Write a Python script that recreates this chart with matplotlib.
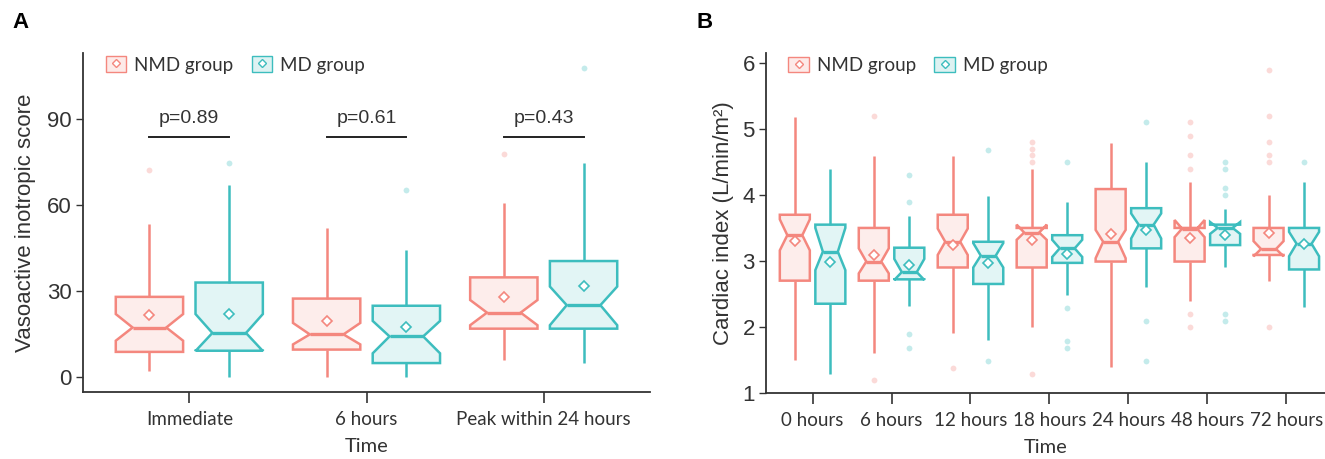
import matplotlib
matplotlib.use("Agg")
import matplotlib.pyplot as plt
from matplotlib.patches import Polygon, Patch
from matplotlib.lines import Line2D
from matplotlib.legend_handler import HandlerTuple

# ---- panel A: vasoactive inotropic score ----
a_times = ["Immediate", "6 hours", "Peak within 24 hours"]
a_pvalues = ["p=0.89", "p=0.61", "p=0.43"]

a_nmd_q1 = [8.7, 9.5, 16.8]
a_nmd_med = [17.2, 14.8, 22.4]
a_nmd_q3 = [27.9, 27.3, 34.7]
a_nmd_notch_lo = [12.6, 11.3, 18.0]
a_nmd_notch_hi = [21.9, 18.8, 26.8]
a_nmd_whisk_lo = [2.1, 0.0, 5.8]
a_nmd_whisk_hi = [53.3, 52.1, 60.5]
a_nmd_mean = [21.4, 19.4, 27.9]
a_nmd_out = [[72.3], [], [77.9]]

a_md_q1 = [9.1, 4.8, 16.8]
a_md_med = [15.3, 14.1, 25.0]
a_md_q3 = [32.9, 24.8, 40.4]
a_md_notch_lo = [9.0, 8.2, 18.0]
a_md_notch_hi = [21.9, 19.5, 31.5]
a_md_whisk_lo = [0.0, 0.0, 4.9]
a_md_whisk_hi = [67.1, 44.3, 74.5]
a_md_mean = [21.9, 17.4, 31.7]
a_md_out = [[74.6], [65.2], [107.7]]

# ---- panel B: cardiac index ----
b_times = ["0 hours", "6 hours", "12 hours", "18 hours", "24 hours", "48 hours", "72 hours"]

b_nmd_q1 = [2.70, 2.70, 2.90, 2.90, 2.99, 2.99, 3.09]
b_nmd_med = [3.39, 2.99, 3.29, 3.43, 3.29, 3.49, 3.18]
b_nmd_q3 = [3.70, 3.50, 3.70, 3.50, 4.09, 3.50, 3.50]
b_nmd_notch_lo = [3.16, 2.81, 3.09, 3.32, 3.04, 3.36, 3.07]
b_nmd_notch_hi = [3.63, 3.19, 3.49, 3.55, 3.47, 3.62, 3.30]
b_nmd_whisk_lo = [1.50, 1.60, 1.90, 2.00, 1.39, 2.39, 2.70]
b_nmd_whisk_hi = [5.19, 4.59, 4.59, 4.39, 4.79, 4.20, 4.00]
b_nmd_mean = [3.30, 3.09, 3.24, 3.31, 3.41, 3.35, 3.42]
b_nmd_out = [[], [5.20, 1.19], [1.38], [4.80, 4.70, 4.60, 4.50, 1.28], [],
             [5.10, 4.90, 4.60, 4.40, 2.19, 1.99], [5.90, 5.20, 4.80, 4.60, 4.50, 1.99]]

b_md_q1 = [2.35, 2.72, 2.65, 2.97, 3.19, 3.24, 2.87]
b_md_med = [3.14, 2.83, 3.08, 3.19, 3.55, 3.50, 3.26]
b_md_q3 = [3.55, 3.20, 3.29, 3.39, 3.80, 3.55, 3.50]
b_md_notch_lo = [2.86, 2.71, 2.90, 3.06, 3.34, 3.41, 3.07]
b_md_notch_hi = [3.50, 3.03, 3.27, 3.32, 3.72, 3.59, 3.44]
b_md_whisk_lo = [1.29, 2.31, 1.80, 2.49, 2.60, 2.90, 2.30]
b_md_whisk_hi = [4.39, 3.68, 3.99, 3.90, 4.50, 3.79, 4.20]
b_md_mean = [2.99, 2.94, 2.97, 3.11, 3.47, 3.39, 3.26]
b_md_out = [[], [4.30, 3.90, 1.89, 1.68], [4.69, 1.48], [4.50, 2.29, 1.78, 1.68],
            [5.10, 2.09, 1.48], [4.50, 4.40, 4.10, 4.00, 2.19, 2.09], [4.50]]

NMD_COLOR = "#F4877E"
MD_COLOR = "#3DBDBE"
AXIS_COLOR = "#333333"
BOX_WIDTH = 0.38
DODGE = 0.225

plt.rcParams["font.family"] = ["Liberation Sans", "DejaVu Sans"]
LABEL_FONT = ["Lato", "DejaVu Sans"]


def draw_box(ax, x, q1, med, q3, nlo, nhi, wlo, whi, mean, outliers, color):
    """ggplot-style notched box built from summary statistics."""
    xmin, xmax = x - BOX_WIDTH / 2, x + BOX_WIDTH / 2
    ind = BOX_WIDTH / 4
    pts = [(xmin, q3), (xmin, nhi), (xmin + ind, med), (xmin, nlo), (xmin, q1),
           (xmax, q1), (xmax, nlo), (xmax - ind, med), (xmax, nhi), (xmax, q3)]
    ax.plot([x, x], [q3, whi], color=color, lw=1.8, zorder=1, solid_capstyle="butt")
    ax.plot([x, x], [wlo, q1], color=color, lw=1.8, zorder=1, solid_capstyle="butt")
    ax.add_patch(Polygon(pts, closed=True, facecolor=color, alpha=0.15,
                         edgecolor="none", zorder=2))
    ax.add_patch(Polygon(pts, closed=True, fill=False, edgecolor=color,
                         lw=1.8, joinstyle="miter", zorder=3))
    ax.plot([xmin + ind, xmax - ind], [med, med], color=color, lw=2.4, zorder=3,
            solid_capstyle="butt")
    ax.plot(x, mean, marker="D", ms=5.5, mfc="white", mec=color, mew=1.2,
            ls="none", zorder=4)
    if outliers:
        ax.plot([x] * len(outliers), outliers, "o", ms=4.2, color=color,
                alpha=0.3, mec="none", zorder=2)


def draw_panel(ax, labels, nmd, md):
    for i in range(len(labels)):
        draw_box(ax, i - DODGE, *[s[i] for s in nmd], NMD_COLOR)
        draw_box(ax, i + DODGE, *[s[i] for s in md], MD_COLOR)
    ax.set_xticks(range(len(labels)))
    ax.set_xticklabels(labels, family=LABEL_FONT, fontsize=13.5, color="#333333")
    for side in ("top", "right"):
        ax.spines[side].set_visible(False)
    for side in ("left", "bottom"):
        ax.spines[side].set_color(AXIS_COLOR)
        ax.spines[side].set_linewidth(1.3)
    ax.tick_params(axis="x", length=8, width=1.2, color=AXIS_COLOR, pad=6)
    ax.tick_params(axis="y", length=5, width=1.0, color=AXIS_COLOR,
                   labelsize=16, labelcolor="#333333", pad=3)
    ax.set_xlabel("Time", family=LABEL_FONT, fontsize=14.5, color="#333333", labelpad=7)
    handles = [
        (Patch(facecolor="#FDEAE8", edgecolor=NMD_COLOR, lw=1.0),
         Line2D([], [], marker="D", ms=4, mfc="white", mec=NMD_COLOR, mew=1, ls="none")),
        (Patch(facecolor="#DDF2F2", edgecolor=MD_COLOR, lw=1.0),
         Line2D([], [], marker="D", ms=4, mfc="white", mec=MD_COLOR, mew=1, ls="none")),
    ]
    ax.legend(handles, ["NMD group", "MD group"], handler_map={tuple: HandlerTuple(ndivide=1)},
              loc="upper left", bbox_to_anchor=(0.01, 1.04), ncol=2, frameon=False,
              prop={"family": LABEL_FONT, "size": 13.5}, handlelength=1.1, handleheight=0.9,
              handletextpad=0.4, columnspacing=1.0, labelcolor="#333333")


fig = plt.figure(figsize=(13.25, 4.59), dpi=100)

ax_a = fig.add_axes([83 / 1325, 67 / 459, 567 / 1325, 339 / 459])
nmd_a = [a_nmd_q1, a_nmd_med, a_nmd_q3, a_nmd_notch_lo, a_nmd_notch_hi,
         a_nmd_whisk_lo, a_nmd_whisk_hi, a_nmd_mean, a_nmd_out]
md_a = [a_md_q1, a_md_med, a_md_q3, a_md_notch_lo, a_md_notch_hi,
        a_md_whisk_lo, a_md_whisk_hi, a_md_mean, a_md_out]
draw_panel(ax_a, a_times, nmd_a, md_a)
ax_a.set_xlim(-0.6, 2.6)
ax_a.set_ylim(-5.3, 113)
ax_a.set_yticks([0, 30, 60, 90])
ax_a.set_ylabel("Vasoactive inotropic score", fontsize=16, color="#333333", labelpad=8)
for i, p in enumerate(a_pvalues):
    ax_a.plot([i - DODGE, i + DODGE], [83.7, 83.7], color="#222222", lw=1.4)
    ax_a.text(i, 90.3, p, ha="center", va="center", fontsize=14, color="#333333")

ax_b = fig.add_axes([766 / 1325, 66.3 / 459, 559 / 1325, 339.4 / 459])
nmd_b = [b_nmd_q1, b_nmd_med, b_nmd_q3, b_nmd_notch_lo, b_nmd_notch_hi,
         b_nmd_whisk_lo, b_nmd_whisk_hi, b_nmd_mean, b_nmd_out]
md_b = [b_md_q1, b_md_med, b_md_q3, b_md_notch_lo, b_md_notch_hi,
        b_md_whisk_lo, b_md_whisk_hi, b_md_mean, b_md_out]
draw_panel(ax_b, b_times, nmd_b, md_b)
ax_b.set_xlim(-0.59, 6.49)
ax_b.set_ylim(1, 6.15)
ax_b.set_yticks([1, 2, 3, 4, 5, 6])
ax_b.set_ylabel("Cardiac index (L/min/m²)", fontsize=16, color="#333333", labelpad=6)

fig.text(12 / 1325, 1 - 22 / 459, "A", fontsize=16, fontweight="bold", va="center")
fig.text(697 / 1325, 1 - 22 / 459, "B", fontsize=16, fontweight="bold", va="center")

fig.savefig("out.png", dpi=100)
